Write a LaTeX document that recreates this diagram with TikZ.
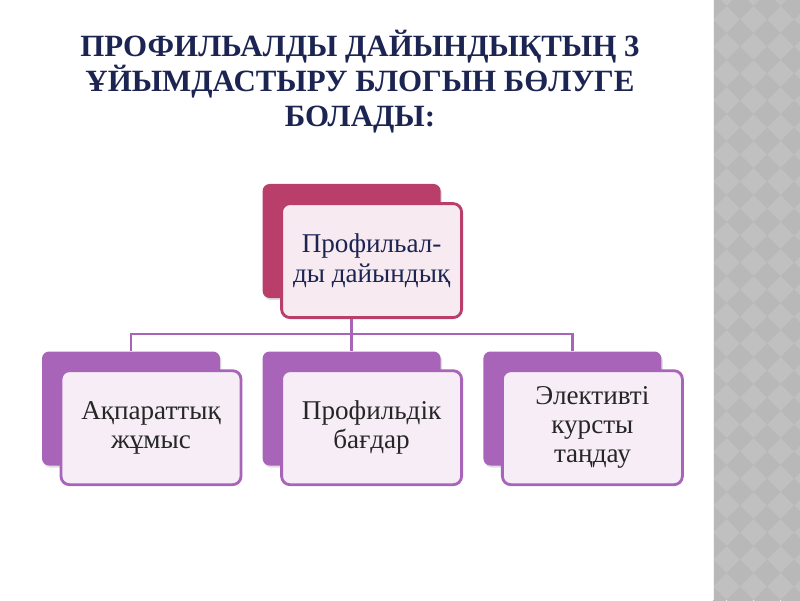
\documentclass[tikz,border=0pt]{standalone}
\usepackage{fontspec}
\setmainfont{Liberation Serif}
\usetikzlibrary{positioning,shadows}
\definecolor{navy}{RGB}{28,36,82}
\definecolor{rosedark}{RGB}{186,62,106}
\definecolor{roselight}{RGB}{247,234,241}
\definecolor{violetdark}{RGB}{168,100,185}
\definecolor{violetlight}{RGB}{246,237,247}
\definecolor{stripgray}{RGB}{192,192,192}
\definecolor{stripdark}{RGB}{184,184,184}

\begin{document}
\begin{tikzpicture}
    % Define node styles
    \tikzstyle{headline} = [align=center, text=navy, font=\fontsize{22}{24.9}\selectfont\bfseries]
    \tikzstyle{backbox} = [rectangle, rounded corners=5pt, minimum width=4.45cm, minimum height=2.85cm, drop shadow={shadow xshift=1pt, shadow yshift=-1.5pt, opacity=0.25}]
    \tikzstyle{frontbox} = [rectangle, rounded corners=6pt, line width=2pt, minimum width=4.5cm, minimum height=2.85cm, align=center, font=\fontsize{19.3}{20.8}\selectfont]
    \tikzstyle{link} = [draw=violetdark, line width=1.6pt]

    \useasboundingbox (0,0) rectangle (20,15);

    % Grey strip on the right
    \fill[stripgray] (17.825,0) rectangle (20,15);
    \begin{scope}
        \clip (17.825,0) rectangle (20,15);
        \foreach \i in {0,...,4} {
            \foreach \j in {0,...,23} {
                \fill[stripdark] (17.825+0.675*\i,0.675*\j) +(-0.3375,0) -- +(0,0.3375) -- +(0.3375,0) -- +(0,-0.3375) -- cycle;
            }
        }
    \end{scope}
    \draw[white!80!stripgray, line width=1.2pt] (17.84,0) -- (17.84,15);

    % Title
    \node[headline] (head) at (9,12.95) {ПРОФИЛЬАЛДЫ ДАЙЫНДЫҚТЫҢ 3\\ҰЙЫМДАСТЫРУ БЛОГЫН БӨЛУГЕ\\БОЛАДЫ:};

    % Back boxes
    \node[backbox, fill=rosedark] (topback) at (8.79,8.975) {};
    \node[backbox, fill=violetdark] (leftback) at (3.275,4.7875) {};
    \node[backbox, fill=violetdark] (midback) at (8.79,4.7875) {};
    \node[backbox, fill=violetdark] (rightback) at (14.31,4.7875) {};

    % Connectors
    \draw[link] (topback.south) -- ++(0,-0.9) -| (leftback.north);
    \draw[link] (topback.south) -- ++(0,-0.9) -| (midback.north);
    \draw[link] (topback.south) -- ++(0,-0.9) -| (rightback.north);

    % Front boxes
    \node[frontbox, draw=rosedark, fill=roselight, text=navy] (top) at ([xshift=0.5cm, yshift=-0.49cm]topback) {Профильал-\\ды дайындық};
    \node[frontbox, draw=violetdark, fill=violetlight, text=black!85] (left) at ([xshift=0.5cm, yshift=-0.48cm]leftback) {Ақпараттық\\жұмыс};
    \node[frontbox, draw=violetdark, fill=violetlight, text=black!85] (mid) at ([xshift=0.5cm, yshift=-0.48cm]midback) {Профильдік\\бағдар};
    \node[frontbox, draw=violetdark, fill=violetlight, text=black!85] (right) at ([xshift=0.5cm, yshift=-0.48cm]rightback) {Элективті\\курсты\\таңдау};
\end{tikzpicture}
\end{document}
